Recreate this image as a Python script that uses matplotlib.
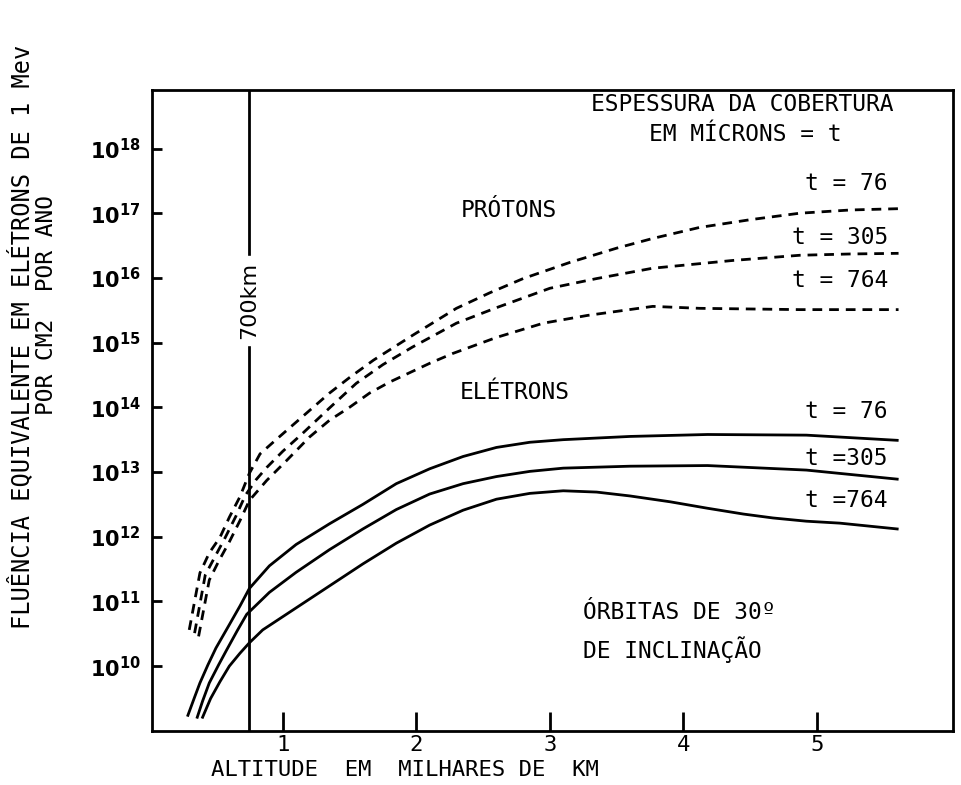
import matplotlib
matplotlib.use("Agg")
import matplotlib.pyplot as plt
import numpy as np

# altitude in thousands of km, fluence as log10 exponent
prot_76_x = [0.30, 0.38, 0.45, 0.53, 0.60, 0.68, 0.75, 0.83, 0.95, 1.05, 1.20, 1.35, 1.50, 1.68, 1.97, 2.30, 2.55, 2.80, 3.15, 3.50, 3.77, 4.12, 4.50, 4.87, 5.25, 5.61]
prot_76_y = [10.56, 11.44, 11.75, 11.99, 12.30, 12.62, 12.98, 13.28, 13.50, 13.68, 13.95, 14.22, 14.46, 14.73, 15.11, 15.53, 15.77, 15.99, 16.24, 16.46, 16.61, 16.78, 16.90, 17.00, 17.05, 17.07]

prot_305_x = [0.34, 0.42, 0.50, 0.57, 0.65, 0.72, 0.80, 0.88, 1.00, 1.15, 1.35, 1.55, 1.75, 1.97, 2.30, 2.60, 3.00, 3.35, 3.77, 4.37, 4.87, 5.25, 5.61]
prot_305_y = [10.51, 11.41, 11.72, 11.99, 12.32, 12.64, 12.88, 13.07, 13.32, 13.60, 13.99, 14.37, 14.66, 14.93, 15.30, 15.54, 15.84, 15.99, 16.15, 16.27, 16.35, 16.37, 16.38]

prot_764_x = [0.37, 0.45, 0.52, 0.60, 0.68, 0.75, 0.88, 1.03, 1.20, 1.35, 1.50, 1.65, 1.80, 2.10, 2.27, 2.60, 2.95, 3.28, 3.77, 4.12, 4.87, 5.61]
prot_764_y = [10.46, 11.33, 11.62, 11.92, 12.25, 12.56, 12.87, 13.18, 13.54, 13.80, 14.00, 14.22, 14.39, 14.68, 14.83, 15.08, 15.30, 15.42, 15.56, 15.53, 15.51, 15.51]

elet_76_x = [0.29, 0.34, 0.38, 0.44, 0.50, 0.60, 0.68, 0.75, 0.90, 1.10, 1.35, 1.60, 1.85, 2.10, 2.35, 2.60, 2.85, 3.10, 3.60, 4.18, 4.92, 5.60]
elet_76_y = [9.24, 9.52, 9.74, 10.02, 10.28, 10.64, 10.93, 11.20, 11.55, 11.88, 12.20, 12.50, 12.82, 13.05, 13.24, 13.38, 13.46, 13.50, 13.55, 13.58, 13.57, 13.49]

elet_305_x = [0.36, 0.40, 0.45, 0.52, 0.58, 0.66, 0.73, 0.90, 1.10, 1.35, 1.60, 1.85, 2.10, 2.35, 2.60, 2.85, 3.10, 3.60, 4.18, 4.92, 5.60]
elet_305_y = [9.21, 9.46, 9.74, 10.02, 10.25, 10.55, 10.80, 11.14, 11.45, 11.80, 12.12, 12.42, 12.66, 12.82, 12.93, 13.01, 13.06, 13.09, 13.10, 13.03, 12.89]

elet_764_x = [0.40, 0.46, 0.53, 0.60, 0.68, 0.75, 0.85, 1.10, 1.35, 1.60, 1.85, 2.10, 2.35, 2.60, 2.85, 3.10, 3.35, 3.60, 3.90, 4.18, 4.45, 4.67, 4.92, 5.17, 5.60]
elet_764_y = [9.21, 9.50, 9.76, 10.00, 10.20, 10.36, 10.56, 10.90, 11.24, 11.58, 11.90, 12.18, 12.41, 12.58, 12.67, 12.71, 12.69, 12.63, 12.54, 12.44, 12.35, 12.29, 12.24, 12.21, 12.12]

x_ticks = [1, 2, 3, 4, 5]
y_exps = [10, 11, 12, 13, 14, 15, 16, 17, 18]
marker_700km = 0.75

mono = "DejaVu Sans Mono"
plt.rcParams["font.family"] = "DejaVu Sans"

fig = plt.figure(figsize=(9.61, 7.85), dpi=100)
ax = fig.add_axes([0.158, 0.069, 0.834, 0.816])
ax.set_yscale("log")
ax.set_xlim(0.02, 6.02)
ax.set_ylim(1e9, 10**18.9)

dash = (0, (3.5, 2.5))
for xs, ys in [(prot_76_x, prot_76_y), (prot_305_x, prot_305_y), (prot_764_x, prot_764_y)]:
    ax.plot(xs, 10.0 ** np.array(ys), color="black", lw=2, linestyle=dash)
for xs, ys in [(elet_76_x, elet_76_y), (elet_305_x, elet_305_y), (elet_764_x, elet_764_y)]:
    ax.plot(xs, 10.0 ** np.array(ys), color="black", lw=2)

ax.axvline(marker_700km, color="black", lw=2)
ax.text(marker_700km, 10**15.65, "700km", rotation=90, ha="center", va="center",
        fontsize=16, backgroundcolor="white")

for s in ax.spines.values():
    s.set_linewidth(2)

ax.set_xticks(x_ticks)
ax.set_xticklabels([str(v) for v in x_ticks], fontsize=16, family=mono)
ax.tick_params(axis="x", direction="in", length=14, width=2, pad=3)
ax.set_yticks([10.0 ** e for e in y_exps])
ax.set_yticklabels([r"$\mathbf{10^{%d}}$" % e for e in y_exps], fontsize=15)
ax.yaxis.set_minor_locator(matplotlib.ticker.NullLocator())
ax.tick_params(axis="y", direction="in", length=7, width=2, pad=8)

txt = dict(fontsize=16.5, family=mono, color="black")
ax.text(4.44, 10**18.68, "ESPESSURA DA COBERTURA", ha="center", va="center", **txt)
ax.text(4.46, 10**18.22, "EM MÍCRONS = t", ha="center", va="center", **txt)
ax.text(2.69, 10**17.04, "PRÓTONS", ha="center", va="center", **txt)
ax.text(2.74, 10**14.23, "ELÉTRONS", ha="center", va="center", **txt)

ax.text(5.53, 10**17.46, "t = 76", ha="right", va="center", **txt)
ax.text(5.53, 10**16.63, "t = 305", ha="right", va="center", **txt)
ax.text(5.53, 10**15.96, "t = 764", ha="right", va="center", **txt)
ax.text(5.53, 10**13.94, "t = 76", ha="right", va="center", **txt)
ax.text(5.53, 10**13.21, "t =305", ha="right", va="center", **txt)
ax.text(5.53, 10**12.56, "t =764", ha="right", va="center", **txt)

ax.text(3.25, 10**10.83, "ÓRBITAS DE 30º", ha="left", va="center", **txt)
ax.text(3.25, 10**10.25, "DE INCLINAÇÃO", ha="left", va="center", **txt)

fig.text(405 / 961, 1 - 770 / 785, "ALTITUDE  EM  MILHARES DE  KM",
         ha="center", va="center", fontsize=16, family=mono)
fig.text(21 / 961, 1 - 337 / 785, "FLUÊNCIA EQUIVALENTE EM ELÉTRONS DE 1 Mev",
         rotation=90, ha="center", va="center", fontsize=17, family=mono)
fig.text(47 / 961, 1 - 305 / 785, "POR CM2  POR ANO",
         rotation=90, ha="center", va="center", fontsize=16.5, family=mono)

fig.savefig("out.png", dpi=100)
